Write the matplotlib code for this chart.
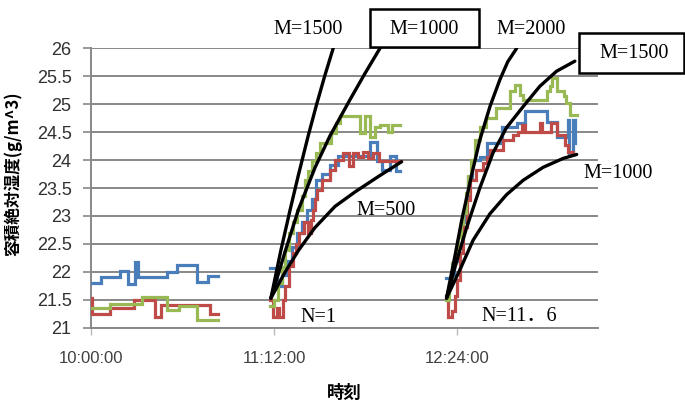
import matplotlib
matplotlib.use('Agg')
import matplotlib.pyplot as plt
from matplotlib.patches import Rectangle

# ---------------- data (time in minutes after 10:00:00) ----------------
x_ticks = [0, 72, 144]
x_ticklabels = ['10:00:00', '11:12:00', '12:24:00']
y_ticks = [21, 21.5, 22, 22.5, 23, 23.5, 24, 24.5, 25, 25.5, 26]
y_ticklabels = ['21', '21.5', '22', '22.5', '23', '23.5', '24', '24.5', '25', '25.5', '26']

# blue series
blue_t1 = [0, 4, 11.5, 14.7, 17.5, 18.5, 29.8, 33.7, 41.6, 46.2, 50.1]
blue_v1 = [21.80, 21.91, 22.02, 21.78, 22.18, 21.90, 22.00, 22.12, 21.82, 21.93, 21.93]
blue_t2 = [70.5, 73, 75, 77, 79, 81, 83, 85, 87, 88.5, 91, 94, 97, 109.8, 112.5, 114.5, 117.6, 120, 121.6]
blue_v2 = [22.06, 21.75, 21.95, 22.2, 22.45, 22.7, 22.9, 23.1, 23.3, 23.65, 23.75, 23.92, 24.08, 24.32, 23.98, 23.83, 24.08, 23.8, 23.8]
blue_t3 = [139.8, 141.5, 143, 144.5, 146, 147.5, 148.5, 149.8, 153, 155.7, 161.6, 167.5, 170.7, 179.6, 183.2, 187.5, 188.0, 189.8, 190.3, 190.6]
blue_v3 = [21.89, 21.95, 22.2, 22.5, 22.9, 23.3, 23.7, 24.0, 24.05, 24.3, 24.6, 24.66, 24.87, 24.69, 24.42, 24.72, 24.1, 24.72, 24.3, 24.3]

# red series
red_t1 = [0, 0.5, 7.5, 17.0, 25.2, 27.5, 47.0, 50.1]
red_v1 = [21.53, 21.24, 21.35, 21.50, 21.20, 21.41, 21.25, 21.25]
red_t2 = [70.6, 71.5, 73, 74, 75.6, 76.5, 78, 79.5, 80.5, 82, 84, 85.5, 86.5, 87.5, 88.1, 89, 91, 94, 96, 99, 101.5, 103, 105, 107, 109, 111, 113.5, 121.8]
red_v2 = [21.5, 21.2, 21.35, 21.2, 21.5, 21.75, 22.1, 22.33, 22.5, 22.7, 22.9, 22.69, 22.93, 23.1, 23.3, 23.47, 23.65, 23.83, 24.0, 24.12, 23.9, 24.12, 24.05, 24.15, 24.03, 24.12, 23.98, 23.98]
red_t3 = [139.8, 140.5, 142, 143.2, 144, 145.2, 146.5, 147.8, 149.3, 151.5, 154.3, 155.7, 157, 162.2, 166.1, 168.1, 169.4, 170.7, 176.6, 177.3, 181.2, 183.2, 186.5, 187.8, 189.7]
red_v3 = [21.56, 21.2, 21.3, 21.56, 21.85, 22.33, 22.81, 23.29, 23.65, 23.83, 23.95, 24.06, 24.18, 24.36, 24.45, 24.51, 24.63, 24.51, 24.66, 24.51, 24.66, 24.45, 24.27, 24.15, 24.15]

# green series
green_t1 = [0, 7.5, 20.0, 29.8, 34.5, 41.8, 50.1]
green_v1 = [21.35, 21.43, 21.55, 21.31, 21.38, 21.13, 21.13]
green_t2 = [70.6, 72, 73.5, 75, 76.5, 78, 79.5, 81, 83, 84.2, 85.5, 87, 88.5, 90, 94.5, 96.5, 98, 105.8, 107.8, 109.8, 111.7, 113.7, 117, 118.5, 121.6]
green_v2 = [21.38, 21.5, 21.8, 22.09, 22.39, 22.69, 22.9, 23.11, 23.35, 23.65, 23.8, 23.98, 24.12, 24.3, 24.48, 24.66, 24.78, 24.48, 24.78, 24.42, 24.6, 24.63, 24.5, 24.63, 24.63]
green_t3 = [139.8, 141, 142, 143.5, 144.5, 145.5, 146.5, 147.5, 148.3, 149.5, 151, 153, 155.5, 159.5, 164.8, 166.8, 169, 170, 179.3, 180.6, 181.5, 183.5, 186, 187.1, 188.4, 191.1]
green_v3 = [21.5, 21.8, 22.15, 22.4, 22.63, 22.85, 23.05, 23.41, 23.71, 24.0, 24.36, 24.6, 24.75, 24.93, 25.23, 25.35, 25.17, 25.08, 25.23, 25.32, 25.47, 25.23, 25.15, 25.02, 24.81, 24.81]

# model curves
n1_m1500_t = [70.8, 74.6, 78.3, 81.6, 85.5, 88.8, 92.0, 95.3]
n1_m1500_v = [21.53, 22.36, 23.10, 23.73, 24.44, 25.00, 25.51, 26.0]
n1_m1000_t = [70.8, 76.3, 81.6, 88.1, 94.0, 101.9, 107.8, 113.7]
n1_m1000_v = [21.53, 22.35, 23.11, 23.86, 24.43, 25.08, 25.55, 26.0]
n1_m500_t = [70.8, 76.3, 81.6, 88.1, 96.0, 103.9, 112.9, 122.2]
n1_m500_v = [21.53, 21.99, 22.38, 22.79, 23.17, 23.43, 23.70, 23.97]
n2_m2000_t = [139.9, 143.2, 145.9, 149.8, 153.0, 157.0, 160.9, 164.0, 167.5]
n2_m2000_v = [21.53, 22.28, 22.93, 23.74, 24.36, 24.96, 25.44, 25.76, 26.0]
n2_m1500_t = [139.9, 143.8, 147.8, 153.0, 158.2, 163.5, 170.1, 176.6, 183.2, 190.4]
n2_m1500_v = [21.53, 22.18, 22.79, 23.50, 24.13, 24.58, 24.96, 25.32, 25.59, 25.77]
n2_m1000_t = [139.9, 145.2, 150.4, 157.0, 163.5, 170.1, 177.9, 185.8, 191.1]
n2_m1000_v = [21.53, 22.04, 22.57, 23.04, 23.38, 23.64, 23.87, 24.03, 24.10]

# ---------------- figure ----------------
W, H = 685, 407
fig = plt.figure(figsize=(W / 100, H / 100), dpi=100)
ax = fig.add_axes([91 / W, 1 - 327.7 / H, (598 - 91) / W, (327.7 - 48.3) / H])

BLUE, RED, GREEN = '#4A7EBB', '#BE4B48', '#98B954'
GRID = '#888888'
lw = 2.3

for col, segs in [(BLUE, [(blue_t1, blue_v1), (blue_t2, blue_v2), (blue_t3, blue_v3)]),
                  (RED, [(red_t1, red_v1), (red_t2, red_v2), (red_t3, red_v3)]),
                  (GREEN, [(green_t1, green_v1), (green_t2, green_v2), (green_t3, green_v3)])]:
    for t, v in segs:
        ax.plot(t, v, color=col, lw=lw, drawstyle='steps-post', solid_joinstyle='miter', zorder=3)

for t, v in [(n1_m1500_t, n1_m1500_v), (n1_m1000_t, n1_m1000_v), (n1_m500_t, n1_m500_v),
             (n2_m2000_t, n2_m2000_v), (n2_m1500_t, n2_m1500_v), (n2_m1000_t, n2_m1000_v)]:
    ax.plot(t, v, color='black', lw=2.4, solid_joinstyle='round', solid_capstyle='round', zorder=4)

ax.set_xlim(0, 199.5)
ax.set_ylim(21, 26)
ax.set_xticks(x_ticks)
ax.set_xticklabels(x_ticklabels)
ax.set_yticks(y_ticks)
ax.set_yticklabels(y_ticklabels)

tickfont = ['Liberation Sans Narrow', 'Liberation Sans']
for lab in ax.get_xticklabels():
    lab.set_family(tickfont); lab.set_fontsize(12); lab.set_color('#404040')
for lab in ax.get_yticklabels():
    lab.set_family(tickfont); lab.set_fontsize(13); lab.set_color('#303030')

ax.yaxis.grid(True, color=GRID, lw=1.4)
ax.set_axisbelow(True)
for s in ['top', 'right']:
    ax.spines[s].set_visible(False)
for s in ['left', 'bottom']:
    ax.spines[s].set_color(GRID)
    ax.spines[s].set_linewidth(1.4)
ax.tick_params(axis='y', direction='out', length=6, width=1.2, color=GRID, pad=8)
ax.tick_params(axis='x', direction='out', length=5, width=1.0, color='#bbbbbb', pad=12)

fig.text(13 / W, 1 - 174 / H, '容積絶対湿度(g/m^3)', rotation=90, ha='center', va='center',
         fontsize=12, fontweight='bold', family=['Noto Sans CJK JP'])
fig.text(344 / W, 1 - 393 / H, '時刻', ha='center', va='center',
         fontsize=12.5, fontweight='bold', family=['Noto Sans CJK JP'])

# annotation boxes
for (x0, y0, x1, y1) in [(370, 9.3, 479, 46.7), (579, 33.3, 684, 72.7)]:
    fig.add_artist(Rectangle((x0 / W, 1 - y1 / H), (x1 - x0) / W, (y1 - y0) / H,
                             transform=fig.transFigure, facecolor='white', edgecolor='black',
                             lw=1.8, zorder=10))

lblfont = ['Liberation Serif', 'Noto Sans CJK JP']
for txt, x, y in [('M=1500', 308, 29), ('M=1000', 424, 30), ('M=2000', 531, 29),
                  ('M=1500', 634, 53), ('M=1000', 618, 173), ('M=500', 386, 210),
                  ('N=1', 318, 317), ('N=11．6', 519, 316.5)]:
    fig.text(x / W, 1 - y / H, txt, ha='center', va='center', fontsize=14.5,
             family=lblfont, zorder=11)

fig.savefig('out.png', dpi=100)
